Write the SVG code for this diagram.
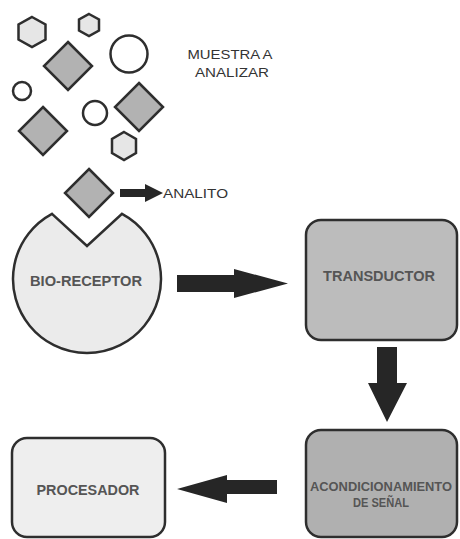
<svg xmlns="http://www.w3.org/2000/svg" width="460" height="539" viewBox="0 0 460 539">
<style>
.sh{stroke:#2e2e2e;stroke-width:2.5;stroke-linejoin:miter}
.dia{fill:#b2b2b2}
.hex{fill:#e6e6e6}
.cir{fill:#ffffff}
.box{stroke:#2e2e2e;stroke-width:2.5}
.lbl{font-family:"Liberation Sans",Arial,sans-serif;font-weight:bold;fill:#555;text-anchor:middle}
.sm{font-family:"Liberation Sans",Arial,sans-serif;fill:#333;font-size:13px}
.arr{fill:#262626}
</style>
<rect width="460" height="539" fill="#ffffff"/>
<g id="sample">
<polygon class="sh hex" points="32,17 45.5,24.5 45.5,39.5 32,47 18.5,39.5 18.5,24.5"/>
<polygon class="sh hex" points="89,14 99,19.5 99,30.5 89,36 79,30.5 79,19.5"/>
<polygon class="sh hex" points="124,132 136,139 136,153 124,160 112,153 112,139"/>
<polygon class="sh dia" points="68,42 92,66 68,90 44,66"/>
<polygon class="sh dia" points="139,83 163,107 139,131 115,107"/>
<polygon class="sh dia" points="43,107 67,131 43,155 19,131"/>
<circle class="sh cir" cx="129" cy="54" r="18.5"/>
<circle class="sh cir" cx="22" cy="91" r="9"/>
<circle class="sh cir" cx="95" cy="113" r="12"/>
<text class="sm" x="230" y="59" text-anchor="middle" textLength="85" lengthAdjust="spacingAndGlyphs">MUESTRA A</text>
<text class="sm" x="232" y="77" text-anchor="middle" textLength="74" lengthAdjust="spacingAndGlyphs">ANALIZAR</text>
</g>
<g id="analito">
<polygon class="sh dia" points="89,169 113,193 89,217 65,193"/>
<text class="sm" x="163" y="198" textLength="65" lengthAdjust="spacingAndGlyphs">ANALITO</text>
</g>
<g id="bioreceptor">
<path class="sh" fill="#ebebeb" d="M52,213.8 L87,246 L122,213.8 A74,74 0 1 1 52,213.8 Z"/>
<text class="lbl" x="86" y="286" font-size="15" textLength="112" lengthAdjust="spacingAndGlyphs">BIO-RECEPTOR</text>
</g>
<g id="transductor">
<rect class="box" x="306" y="220" width="151" height="120" rx="15" fill="#bcbcbc"/>
<text class="lbl" x="379" y="281" font-size="14" textLength="112" lengthAdjust="spacingAndGlyphs">TRANSDUCTOR</text>
</g>
<g id="acondicionamiento">
<rect class="box" x="306" y="430" width="151" height="107" rx="15" fill="#b0b0b0"/>
<text class="lbl" x="381" y="491" font-size="12" textLength="142" lengthAdjust="spacingAndGlyphs">ACONDICIONAMIENTO</text>
<text class="lbl" x="381" y="507" font-size="12" textLength="56" lengthAdjust="spacingAndGlyphs">DE SEÑAL</text>
</g>
<g id="procesador">
<rect class="box" x="12" y="438" width="153" height="99" rx="15" fill="#eeeeee"/>
<text class="lbl" x="88" y="495" font-size="14" textLength="103" lengthAdjust="spacingAndGlyphs">PROCESADOR</text>
</g>
<g id="connectors">
<polygon class="arr" points="120,189 145,189 145,184 163,193 145,202 145,197 120,197"/>
<polygon class="arr" points="177,275 234,275 234,269 288,283.5 234,298 234,292 177,292"/>
<polygon class="arr" points="377,347 397,347 397,383 407,383 387,422 368,383 377,383"/>
<polygon class="arr" points="277,480 227,480 227,475 177,489 227,503 227,494 277,494"/>
</g>
</svg>
